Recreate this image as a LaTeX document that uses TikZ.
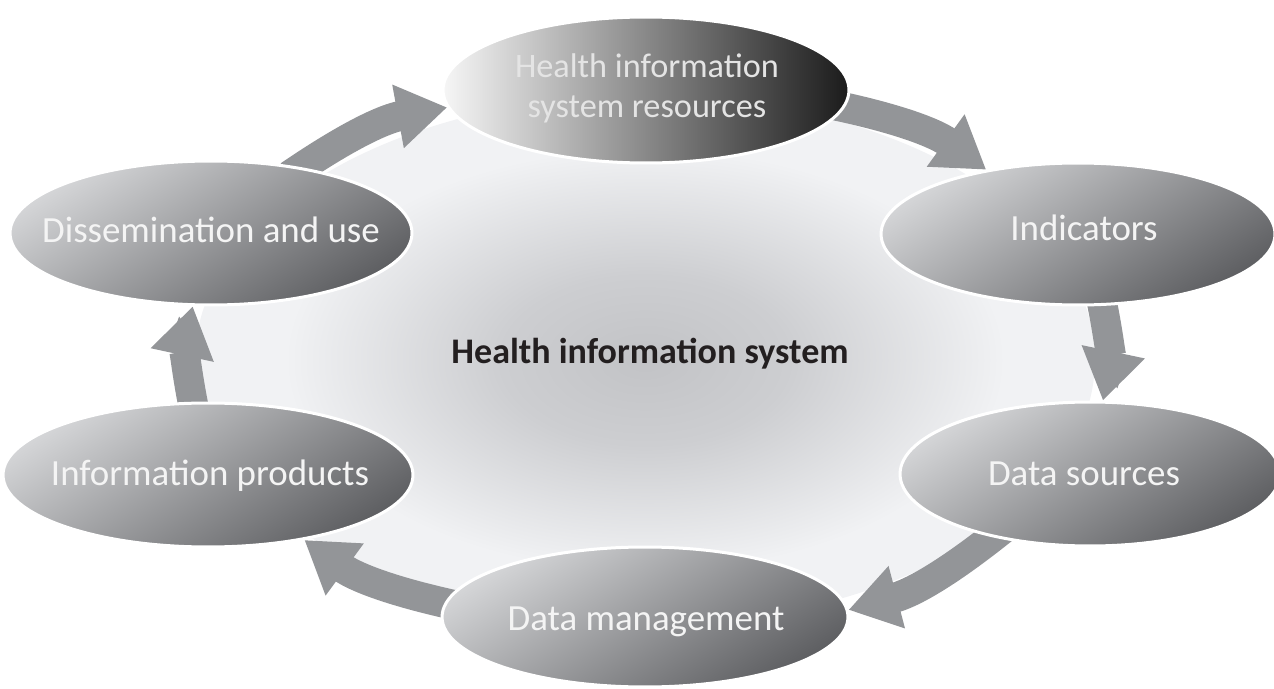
\documentclass[tikz,border=0pt]{standalone}
\usepackage{fontspec}
\setmainfont{Carlito}
\usetikzlibrary{shapes.geometric,arrows.meta}
\definecolor{arrowgray}{HTML}{939598}
\definecolor{stlight}{HTML}{D4D5D7}
\definecolor{stdark}{HTML}{5E5F62}
\definecolor{toplight}{HTML}{F6F6F6}
\definecolor{topmid}{HTML}{8C8D90}
\definecolor{topdark}{HTML}{1B1B1B}
\definecolor{hubin}{HTML}{C2C3C6}
\definecolor{hubmid}{HTML}{CDCED1}
\definecolor{hubout}{HTML}{F1F2F4}
\definecolor{labtext}{HTML}{F4F4F4}
\definecolor{toptext}{HTML}{E4E4E4}
\definecolor{hubtext}{HTML}{231F20}
\pgfdeclareradialshading{hubshade}{\pgfpoint{0bp}{0bp}}{color(0bp)=(hubin); color(8bp)=(hubmid); color(20bp)=(hubout); color(25bp)=(hubout); color(50bp)=(hubout)}
\pgfdeclarelayer{hub}
\pgfdeclarelayer{arr}
\pgfsetlayers{hub,arr,main}
\tikzset{
  stage/.style={ellipse, draw=white, line width=0.06cm, inner sep=0pt,
    top color=stlight, bottom color=stdark, shading angle=32},
  topstage/.style={ellipse, draw=white, line width=0.06cm, inner sep=0pt,
    left color=toplight, middle color=topmid, right color=topdark},
  lbl/.style={text=labtext, inner sep=0pt, font=\fontsize{21}{24}\selectfont},
  toplbl/.style={text=toptext, inner sep=0pt, align=center, font=\fontsize{19.5}{22.7}\selectfont},
  hublbl/.style={text=hubtext, inner sep=0pt, font=\fontsize{20.5}{24}\selectfont\bfseries},
  flow/.style={draw=arrowgray, line width=0.6cm, -{Triangle[width=1.22cm,length=1.0cm]}, shorten <=-0.3cm}
}
\begin{document}
\begin{tikzpicture}[x=0.02cm,y=0.02cm]
\useasboundingbox (0,0) rectangle (1274,-689);
% central hub
\begin{pgfonlayer}{hub}
\node[ellipse, minimum width=18cm, minimum height=10.6cm, inner sep=0pt, shading=hubshade] (hub) at (645,-360) {};
\end{pgfonlayer}
% stages
\node[topstage, minimum width=8.12cm, minimum height=2.92cm] (top) at (646,-90) {};
\node[stage, minimum width=7.88cm, minimum height=2.84cm] (ind) at (1078,-234) {};
\node[stage, minimum width=7.6cm, minimum height=2.88cm] (ds) at (1090,-474) {};
\node[stage, minimum width=8.12cm, minimum height=2.8cm] (dm) at (645,-617) {};
\node[stage, minimum width=8.2cm, minimum height=2.88cm] (ip) at (208,-475) {};
\node[stage, minimum width=8.04cm, minimum height=2.88cm] (dis) at (211,-233) {};
% labels
\node[toplbl] (ttop) at (647,-88) {Health information\\system resources};
\node[lbl, anchor=base] (tind) at (1084,-240) {Indicators};
\node[lbl, anchor=base] (tds) at (1084,-485) {Data sources};
\node[lbl, anchor=base] (tdm) at (646,-630) {Data management};
\node[lbl, anchor=base] (tip) at (210,-485) {Information products};
\node[lbl, anchor=base] (tdis) at (211,-242) {Dissemination and use};
\node[hublbl, anchor=base] (thub) at (650,-363) {Health information system};
% arrows
\begin{pgfonlayer}{arr}
\draw[flow] (dis.36) to[bend left=12] (top.185);
\draw[flow] (top.-5) to[bend left=12] (ind.145);
\draw[flow] (ind.-71) to[bend left=12] (ds.80);
\draw[flow] (ds.213) to[bend left=12] (dm.2);
\draw[flow] (dm.176) to[bend left=12] (ip.-34);
\draw[flow] (ip.102) to[bend left=12] (dis.256);
\end{pgfonlayer}
\end{tikzpicture}
\end{document}
